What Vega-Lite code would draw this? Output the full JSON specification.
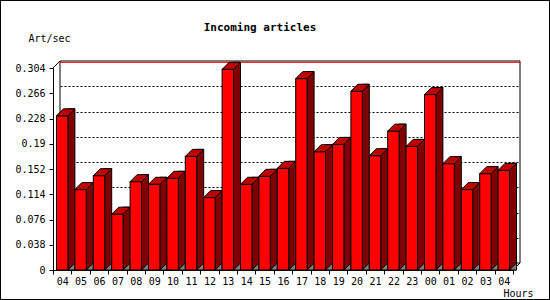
{
  "$schema": "https://vega.github.io/schema/vega-lite/v6.json",
  "width": 550,
  "height": 300,
  "autosize": {"type": "none"},
  "padding": 0,
  "background": "white",
  "config": {"view": {"stroke": "#000000", "strokeWidth": 2}, "font": "DejaVu Sans Mono"},
  "title": {"text": "Incoming articles", "font": "DejaVu Sans Mono", "fontSize": 11, "fontWeight": "bold", "color": "#000000", "anchor": "middle", "dx": -15, "dy": 42, "baseline": "alphabetic", "offset": 0},
  "data": {"name": "art"},
  "datasets": {
    "art": [
      {"h": "a04", "v": 0.232}, {"h": "a05", "v": 0.121}, {"h": "a06", "v": 0.142}, {"h": "a07", "v": 0.084},
      {"h": "a08", "v": 0.133}, {"h": "a09", "v": 0.129}, {"h": "a10", "v": 0.138}, {"h": "a11", "v": 0.171},
      {"h": "a12", "v": 0.109}, {"h": "a13", "v": 0.302}, {"h": "a14", "v": 0.129}, {"h": "a15", "v": 0.141},
      {"h": "a16", "v": 0.153}, {"h": "a17", "v": 0.288}, {"h": "a18", "v": 0.178}, {"h": "a19", "v": 0.189},
      {"h": "a20", "v": 0.269}, {"h": "a21", "v": 0.172}, {"h": "a22", "v": 0.209}, {"h": "a23", "v": 0.186},
      {"h": "b00", "v": 0.264}, {"h": "b01", "v": 0.160}, {"h": "b02", "v": 0.121}, {"h": "b03", "v": 0.145},
      {"h": "b04", "v": 0.150}
    ]
  },
  "layer": [
    {
      "data": {"values": [{}]},
      "mark": {"type": "rule", "color": "#000000", "strokeWidth": 1, "xOffset": -9.2},
      "encoding": {
        "x": {"datum": "a04", "type": "ordinal", "axis": null},
        "y": {"datum": 0, "type": "quantitative",
          "axis": {"orient": "left", "values": [0.038, 0.076, 0.114, 0.152, 0.19, 0.228, 0.266], "grid": true, "gridColor": "#000000", "gridDash": [2, 2], "gridOpacity": 1, "gridWidth": 1, "labels": false, "ticks": false, "domain": false, "title": null}},
        "y2": {"datum": 0.304}
      }
    },
    {
      "data": {"values": [{}]},
      "mark": {"type": "rule", "color": "#000000", "strokeWidth": 1, "xOffset": 9.2},
      "encoding": {
        "x": {"datum": "b04", "type": "ordinal", "axis": null},
        "y": {"datum": 0, "type": "quantitative", "axis": null},
        "y2": {"datum": 0.304}
      }
    },
    {
      "data": {"values": [{}]},
      "mark": {"type": "rule", "color": "#000000", "strokeWidth": 1, "xOffset": -9.2, "x2Offset": 9.2},
      "encoding": {
        "x": {"datum": "a04", "type": "ordinal", "axis": null},
        "x2": {"datum": "b04"},
        "y": {"datum": 0.304, "type": "quantitative", "axis": null}
      }
    },
    {
      "data": {"values": [{}]},
      "mark": {"type": "rule", "color": "#000000", "strokeWidth": 1, "xOffset": -9.2, "x2Offset": 9.2},
      "encoding": {
        "x": {"datum": "a04", "type": "ordinal", "axis": null},
        "x2": {"datum": "b04"},
        "y": {"datum": 0, "type": "quantitative", "axis": null}
      }
    },
    {
      "data": {"values": [{}]},
      "mark": {"type": "rule", "color": "#000000", "strokeWidth": 1, "xOffset": -9.2, "x2Offset": -16.2, "y2Offset": 7},
      "encoding": {
        "x": {"datum": "a04", "type": "ordinal", "axis": null},
        "x2": {"datum": "a04"},
        "y": {"datum": 0.304, "type": "quantitative", "axis": null},
        "y2": {"datum": 0.304}
      }
    },
    {
      "data": {"values": [{}]},
      "mark": {"type": "rule", "color": "#000000", "strokeWidth": 1, "xOffset": 9.2, "x2Offset": 2.2, "y2Offset": 7},
      "encoding": {
        "x": {"datum": "b04", "type": "ordinal", "axis": null},
        "x2": {"datum": "b04"},
        "y": {"datum": 0, "type": "quantitative", "axis": null},
        "y2": {"datum": 0}
      }
    },
    {
      "mark": {"type": "rule", "color": "#ff0000", "strokeWidth": 1, "xOffset": -9.2, "x2Offset": 9.2},
      "encoding": {
        "x": {"datum": "a04", "type": "ordinal", "axis": null},
        "x2": {"datum": "b04"},
        "y": {"aggregate": "max", "field": "v", "type": "quantitative", "axis": null}
      }
    },
    {
      "mark": {"type": "bar", "width": 7, "xOffset": 2.2, "y2Offset": 7, "color": "#800000", "stroke": "#000000", "strokeWidth": 1},
      "encoding": {
        "x": {"field": "h", "type": "ordinal", "axis": null},
        "y": {"field": "v", "type": "quantitative", "axis": null},
        "y2": {"datum": 0}
      }
    },
    {
      "mark": {"type": "point", "shape": "M-1.3,7L5.7,0L5.7,7Z", "size": 4, "filled": true, "fill": "#808080", "stroke": "#000000", "strokeWidth": 1, "opacity": 1},
      "encoding": {
        "x": {"field": "h", "type": "ordinal", "axis": null},
        "y": {"datum": 0, "type": "quantitative", "axis": null}
      }
    },
    {
      "mark": {"type": "bar", "width": {"band": 0.62}, "xOffset": -7, "yOffset": 7, "y2Offset": 7, "color": "#ff0000", "stroke": "#000000", "strokeWidth": 1},
      "encoding": {
        "x": {
          "field": "h", "type": "ordinal",
          "scale": {"type": "band", "paddingInner": 0, "paddingOuter": 0, "range": [60, 520]},
          "axis": {"orient": "bottom", "offset": -30, "position": -7, "tickBand": "extent", "labelExpr": "substring(datum.label, 1)", "labelAngle": 0,
            "labelFont": "DejaVu Sans Mono", "labelFontSize": 10, "labelColor": "#000000", "labelPadding": 2,
            "tickColor": "#000000", "tickSize": 4, "domainColor": "#000000", "grid": false,
            "title": "Hours", "titleFont": "DejaVu Sans Mono", "titleFontSize": 10, "titleFontWeight": "normal", "titleColor": "#000000",
            "titleAlign": "right", "titleAnchor": "start", "titleBaseline": "alphabetic", "titleX": 540, "titleY": 26}
        },
        "y": {"field": "v", "type": "quantitative",
          "scale": {"domain": [0, 0.304], "range": [263, 61], "nice": false},
          "axis": {"orient": "left", "offset": -53, "position": 7, "values": [0, 0.038, 0.076, 0.114, 0.152, 0.19, 0.228, 0.266, 0.304], "labelExpr": "format(datum.value, '~r')",
            "labelFont": "DejaVu Sans Mono", "labelFontSize": 10, "labelColor": "#000000", "labelPadding": 4,
            "tickColor": "#000000", "tickSize": 4, "domainColor": "#000000", "grid": false,
            "title": "Art/sec", "titleFont": "DejaVu Sans Mono", "titleFontSize": 10, "titleFontWeight": "normal", "titleColor": "#000000",
            "titleAngle": 0, "titleAlign": "left", "titleAnchor": "start", "titleBaseline": "alphabetic", "titleX": -25, "titleY": 34}},
        "y2": {"datum": 0}
      }
    },
    {
      "mark": {"type": "point", "shape": "M-12.7,7L-1.3,7L5.7,0L-5.7,0Z", "size": 4, "filled": true, "fill": "#c00000", "stroke": "#000000", "strokeWidth": 1, "opacity": 1},
      "encoding": {
        "x": {"field": "h", "type": "ordinal", "axis": null},
        "y": {"field": "v", "type": "quantitative", "axis": null}
      }
    }
  ],
  "resolve": {"axis": {"x": "independent", "y": "independent"}}
}
